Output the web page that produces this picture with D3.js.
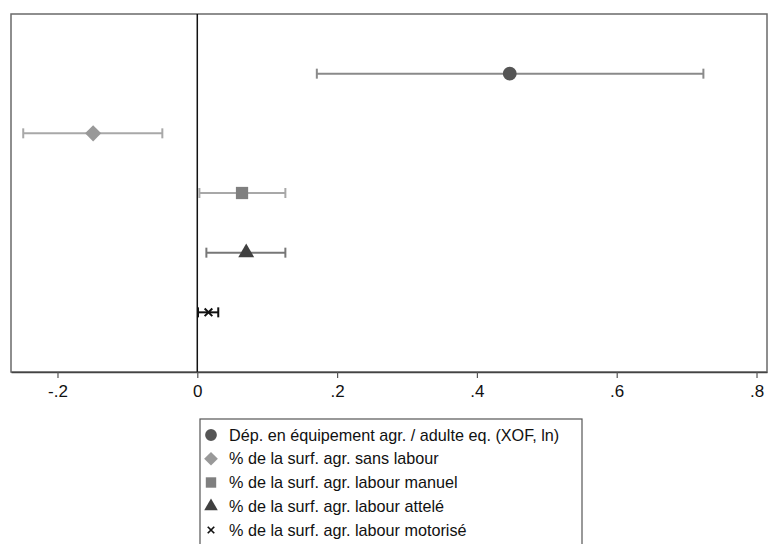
<!DOCTYPE html>
<html>
<head>
<meta charset="utf-8">
<script src="https://cdn.jsdelivr.net/npm/d3@7"></script>
<style>
  body { margin: 0; background: #fff; }
  svg { display: block; font-family: Arial, "Liberation Sans", sans-serif; }
</style>
</head>
<body>
<svg></svg>
<script>
const width = 768;
const height = 544;

// coefficient estimates and 95% CIs
const labels = [
    "Dép. en équipement agr. / adulte eq. (XOF, ln)",
    "% de la surf. agr. sans labour",
    "% de la surf. agr. labour manuel",
    "% de la surf. agr. labour attelé",
    "% de la surf. agr. labour motorisé"
];
const estimates = [0.447, -0.149, 0.064, 0.070, 0.016];
const lower = [0.171, -0.249, 0.003, 0.013, 0.001];
const upper = [0.724, -0.050, 0.126, 0.126, 0.030];
const symbols = ["circle", "diamond", "square", "triangle", "cross"];
const markColors = ["#555555", "#999999", "#7f7f7f", "#404040", "#111111"];
const barColors = ["#8a8a8a", "#a8a8a8", "#a8a8a8", "#777777", "#111111"];
const xTicks = [-0.2, 0, 0.2, 0.4, 0.6, 0.8];

const rows = labels.map((l, i) => ({
    label: l, est: estimates[i], lo: lower[i], hi: upper[i],
    sym: symbols[i], mc: markColors[i], bc: barColors[i], k: i + 1
}));

const svg = d3.select("svg")
    .attr("width", width)
    .attr("height", height);

const plot = { left: 11, top: 14, right: 767, bottom: 372 };

const x = d3.scaleLinear()
    .domain([-0.2665, 0.815])
    .range([plot.left, plot.right]);

const y = d3.scaleLinear()
    .domain([0, 6])
    .range([plot.top, plot.bottom]);

// frame
svg.append("rect")
    .attr("x", plot.left)
    .attr("y", plot.top)
    .attr("width", plot.right - plot.left)
    .attr("height", plot.bottom - plot.top)
    .attr("fill", "none")
    .attr("stroke", "#6a6a6a")
    .attr("stroke-width", 1.5);

// zero line
svg.append("line")
    .attr("x1", x(0)).attr("x2", x(0))
    .attr("y1", plot.top).attr("y2", plot.bottom)
    .attr("stroke", "#111")
    .attr("stroke-width", 1.5);

// x axis, Stata-style labels (-.2, 0, .2 ...)
const xAxis = d3.axisBottom(x)
    .tickValues(xTicks)
    .tickSize(6)
    .tickSizeOuter(0)
    .tickPadding(7)
    .tickFormat(d => d === 0 ? "0" : (d < 0 ? "-" : "") + String(Math.abs(d)).replace("0.", "."));

const gx = svg.append("g")
    .attr("transform", `translate(0,${plot.bottom})`)
    .call(xAxis);
gx.select(".domain").attr("stroke", "#444").attr("stroke-width", 1.5);
gx.selectAll(".tick line").attr("stroke", "#555").attr("stroke-width", 1.2);
gx.selectAll(".tick text")
    .attr("font-size", 17)
    .attr("fill", "#111");

// error bars
const capH = 5;
const bars = svg.append("g").selectAll("g")
    .data(rows)
    .enter().append("g")
    .attr("stroke", d => d.bc)
    .attr("stroke-width", 2);

bars.append("line")
    .attr("x1", d => x(d.lo)).attr("x2", d => x(d.hi))
    .attr("y1", d => y(d.k)).attr("y2", d => y(d.k));
bars.append("line")
    .attr("x1", d => x(d.lo)).attr("x2", d => x(d.lo))
    .attr("y1", d => y(d.k) - capH).attr("y2", d => y(d.k) + capH);
bars.append("line")
    .attr("x1", d => x(d.hi)).attr("x2", d => x(d.hi))
    .attr("y1", d => y(d.k) - capH).attr("y2", d => y(d.k) + capH);

// markers
function symbolFor(name) {
    switch (name) {
        case "circle": return d3.symbol(d3.symbolCircle, 150)();
        case "diamond": return d3.symbol(d3.symbolSquare, 130)();
        case "square": return d3.symbol(d3.symbolSquare, 150)();
        case "triangle": return d3.symbol(d3.symbolTriangle, 110)();
        default: return d3.symbol(d3.symbolTimes, 40)();
    }
}

function drawMarker(sel) {
    sel.append("path")
        .attr("d", d => symbolFor(d.sym))
        .attr("transform", d => d.sym === "diamond" ? "rotate(45)" : null)
        .attr("fill", d => d.sym === "cross" ? "none" : d.mc)
        .attr("stroke", d => d.sym === "cross" ? d.mc : "none")
        .attr("stroke-width", 2);
}

svg.append("g").selectAll("g")
    .data(rows)
    .enter().append("g")
    .attr("transform", d => `translate(${x(d.est)},${y(d.k)})`)
    .call(drawMarker);

// legend
const legend = svg.append("g");
legend.append("rect")
    .attr("x", 200).attr("y", 419)
    .attr("width", 382).attr("height", 140)
    .attr("fill", "#fff")
    .attr("stroke", "#555")
    .attr("stroke-width", 1.2);

const legendY = d3.scalePoint()
    .domain(labels)
    .range([435, 530]);

const items = legend.selectAll("g.item")
    .data(rows)
    .enter().append("g")
    .attr("class", "item")
    .attr("transform", d => `translate(0,${legendY(d.label)})`);

items.append("g")
    .attr("transform", "translate(211,0) scale(0.85)")
    .call(drawMarker);

items.append("text")
    .attr("x", 229)
    .attr("dy", "0.35em")
    .attr("font-size", 16.2)
    .attr("fill", "#111")
    .text(d => d.label);
</script>
</body>
</html>
